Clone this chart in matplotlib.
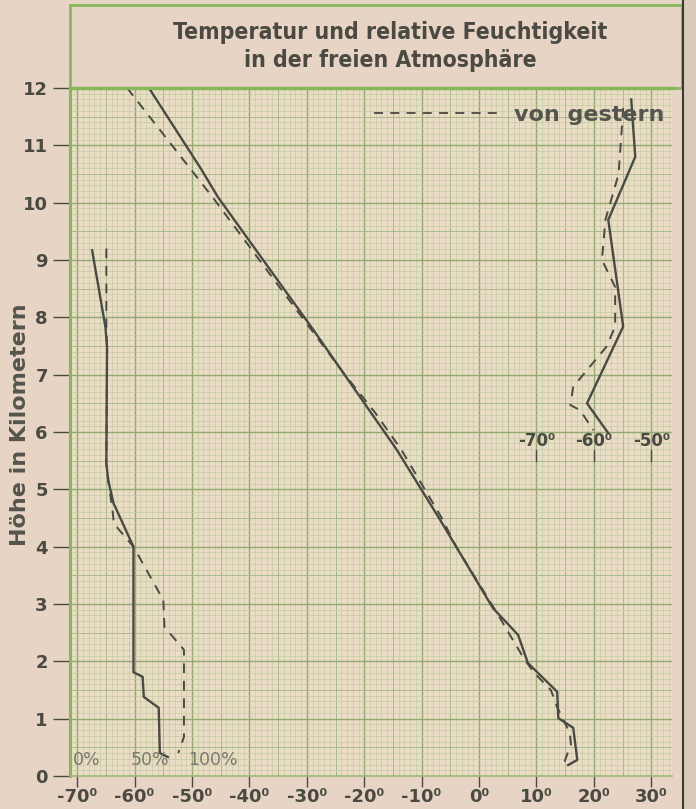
import matplotlib.pyplot as plt
from matplotlib.patches import Rectangle
from matplotlib.lines import Line2D
import numpy as np

# Temperatur heute (durchgezogen): Grad C / Hoehe in km
temp_heute = [-57.5, -48.5, -45.5, -29.0, -14.4, -6.8, -4.0, 2.4, 6.8, 8.5, 13.6, 13.8, 16.4, 17.1, 15.5]
hoehe_temp_heute = [12.0, 10.6, 10.1, 7.8, 5.7, 4.47, 4.0, 2.93, 2.46, 1.97, 1.47, 1.01, 0.84, 0.28, 0.19]

# Temperatur von gestern (gestrichelt)
temp_gestern = [-61.3, -46.3, -23.4, -18.2, -13.6, -6.5, -4.0, 2.6, 7.5, 9.4, 12.5, 13.6, 15.8, 16.0, 14.5]
hoehe_temp_gestern = [12.0, 10.08, 7.0, 6.35, 5.7, 4.5, 4.0, 2.93, 2.1, 1.82, 1.5, 1.2, 0.75, 0.55, 0.15]

# relative Feuchtigkeit in %
feuchte_heute = [13, 24.6, 26, 25.4, 27, 31.6, 49, 49, 57, 58, 71, 72, 79]
hoehe_feuchte_heute = [9.17, 7.83, 7.48, 5.46, 5.16, 4.76, 4.0, 1.81, 1.73, 1.38, 1.19, 0.40, 0.33]
feuchte_gestern = [25.4, 25.4, 26, 25.4, 27, 31, 32, 49, 75, 76, 93, 93, 88]
hoehe_feuchte_gestern = [9.2, 7.8, 7.48, 5.46, 5.16, 4.6, 4.4, 4.0, 3.07, 2.6, 2.2, 0.68, 0.4]

# obere Schichten, eigene Skala (rechts oben)
oben_heute = [-53.5, -52.8, -57.5, -54.9, -61.2, -57.5]
hoehe_oben_heute = [11.8, 10.8, 9.7, 7.84, 6.5, 5.98]
oben_gestern = [-54.9, -55.7, -58.0, -58.6, -56.3, -56.3, -57.8, -63.6, -64.1, -62.4, -60.1]
hoehe_oben_gestern = [11.65, 10.5, 9.7, 9.0, 8.53, 7.84, 7.49, 6.79, 6.47, 6.38, 6.03]
oben_ticks = [-70, -60, -50]
OBEN_OFFSET = 80  # -70 der oberen Skala liegt bei +10 der Hauptskala

x_ticks = [-70, -60, -50, -40, -30, -20, -10, 0, 10, 20, 30]
y_ticks = list(range(0, 13))
feuchte_labels = [(0, '0%'), (50, '50%'), (100, '100%')]

PAGE = '#e7d4c5'
PAPER = '#eadcc5'
INK = '#4a4a42'
GREEN = '#86b85a'


def feuchte_to_x(h):
    return -70 + np.asarray(h) / 5.0


fig = plt.figure(figsize=(6.96, 8.09), dpi=100, facecolor=PAGE)
ax = fig.add_axes([70 / 696, 33 / 809, 602 / 696, 688 / 809])
ax.set_facecolor(PAPER)
ax.set_xlim(-71.25, 33.6)
ax.set_ylim(0, 12)

# Millimeterpapier
for v in np.arange(-71, 34, 1):
    if v % 10 == 0:
        lw, c = 1.0, '#93a872'
    elif v % 5 == 0:
        lw, c = 0.7, '#a9b98a'
    else:
        lw, c = 0.45, '#bfc9a0'
    ax.axvline(v, color=c, lw=lw, zorder=0)
for v in np.arange(0, 12.01, 0.1):
    k = int(round(v * 10))
    if k % 10 == 0:
        lw, c = 1.0, '#93a872'
    elif k % 5 == 0:
        lw, c = 0.7, '#a9b98a'
    else:
        lw, c = 0.45, '#bfc9a0'
    ax.axhline(v, color=c, lw=lw, zorder=0)

# Kurven
ax.plot(temp_heute, hoehe_temp_heute, color=INK, lw=1.7, zorder=3)
ax.plot(temp_gestern, hoehe_temp_gestern, color=INK, lw=1.4, ls=(0, (5, 4)), zorder=3)
ax.plot(feuchte_to_x(feuchte_heute), hoehe_feuchte_heute, color=INK, lw=1.7, zorder=3)
ax.plot(feuchte_to_x(feuchte_gestern), hoehe_feuchte_gestern, color=INK, lw=1.4, ls=(0, (5, 4)), zorder=3)
ax.plot(np.array(oben_heute) + OBEN_OFFSET, hoehe_oben_heute, color=INK, lw=1.7, zorder=3)
ax.plot(np.array(oben_gestern) + OBEN_OFFSET, hoehe_oben_gestern, color=INK, lw=1.4, ls=(0, (5, 4)), zorder=3)

# obere Skala
for t in oben_ticks:
    ax.text(t + OBEN_OFFSET, 5.85, f'{t}\u2070', ha='center', va='center', fontsize=12,
            fontweight='bold', color=INK, zorder=4)
    ax.plot([t + OBEN_OFFSET] * 2, [5.5, 5.68], color=INK, lw=1.0, zorder=4)

# Feuchte-Skala
for h, lab in feuchte_labels:
    ax.text(feuchte_to_x(h) - 0.7, 0.12, lab, ha='left', va='bottom', fontsize=12.5,
            color='#7a7a70', zorder=4)

# Legende
leg = ax.legend(handles=[Line2D([], [], color=INK, lw=1.3, ls=(0, (5, 4)))],
                labels=['von gestern'], loc='upper right', bbox_to_anchor=(1.02, 1.005),
                frameon=False, handlelength=5.6, handletextpad=0.7,
                prop={'size': 16, 'weight': 'bold'})
for txt in leg.get_texts():
    txt.set_color('#555550')

# Achsen
ax.set_xticks(x_ticks)
ax.set_xticklabels([f'{t}\u2070' for t in x_ticks])
ax.set_yticks(y_ticks)
ax.tick_params(axis='x', direction='out', length=8, width=1.0, color=INK, pad=1,
               labelsize=13, labelcolor=INK)
ax.tick_params(axis='y', direction='out', length=12, width=1.0, color=INK, pad=4,
               labelsize=13, labelcolor=INK)
for lab in ax.get_xticklabels() + ax.get_yticklabels():
    lab.set_fontweight('bold')
ax.set_ylabel('Höhe in Kilometern', fontsize=16, fontweight='bold', color='#55554d')
ax.yaxis.set_label_coords(-0.066, 0.51)

ax.spines['left'].set_color(GREEN)
ax.spines['left'].set_linewidth(2.2)
ax.spines['top'].set_color(GREEN)
ax.spines['top'].set_linewidth(2.5)
ax.spines['bottom'].set_color('#9cb878')
ax.spines['bottom'].set_linewidth(1.2)
ax.spines['right'].set_visible(False)

# Titelkasten
fig.patches.append(Rectangle((70 / 696, 721 / 809), 612 / 696, 83 / 809, transform=fig.transFigure,
                             facecolor='none', edgecolor=GREEN, lw=2.0, zorder=1))
for y, line in [(32, 'Temperatur und relative Feuchtigkeit'), (60, 'in der freien Atmosphäre')]:
    fig.text(390 / 696, 1 - y / 809, line, ha='center', va='center', fontsize=16.5,
             color=INK, fontstretch='condensed', fontweight='bold')

# Buchfalz rechts
fig.patches.append(Rectangle((683 / 696, 0), 13 / 696, 1, transform=fig.transFigure,
                             facecolor='#d9cbb8', edgecolor='none', zorder=0))
fig.lines.append(Line2D([683 / 696, 683 / 696], [0, 1], transform=fig.transFigure,
                        color='#3a3a35', lw=1.5))

fig.savefig('out.png', dpi=100, facecolor=PAGE)
